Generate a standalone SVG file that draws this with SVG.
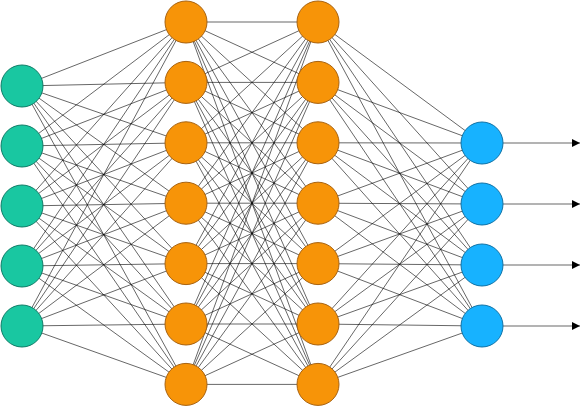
<svg xmlns="http://www.w3.org/2000/svg" width="583" height="415" viewBox="0 0 583 415">
<style>
.c line{stroke:#000;stroke-width:0.6}
.a{stroke:#000;stroke-width:1}
.in{fill:#19C7A1;stroke:#0E7D67;stroke-width:1}
.h{fill:#F79408;stroke:#A8620F;stroke-width:1}
.o{fill:#17B2FF;stroke:#0F72A6;stroke-width:1}
</style>
<defs>
<marker id="ah" viewBox="0 0 10 10" refX="10" refY="5" markerWidth="8" markerHeight="8" markerUnits="userSpaceOnUse" orient="auto">
<path d="M0,0 L10,5 L0,10 z" fill="#000"/>
</marker>
</defs>
<g id="connectors" class="c">
<line x1="22" y1="86" x2="186" y2="22"/><line x1="22" y1="86" x2="186" y2="82.4"/><line x1="22" y1="86" x2="186" y2="142.8"/><line x1="22" y1="86" x2="186" y2="203.2"/><line x1="22" y1="86" x2="186" y2="263.6"/><line x1="22" y1="86" x2="186" y2="324"/><line x1="22" y1="86" x2="186" y2="384.4"/>
<line x1="22" y1="146" x2="186" y2="22"/><line x1="22" y1="146" x2="186" y2="82.4"/><line x1="22" y1="146" x2="186" y2="142.8"/><line x1="22" y1="146" x2="186" y2="203.2"/><line x1="22" y1="146" x2="186" y2="263.6"/><line x1="22" y1="146" x2="186" y2="324"/><line x1="22" y1="146" x2="186" y2="384.4"/>
<line x1="22" y1="206" x2="186" y2="22"/><line x1="22" y1="206" x2="186" y2="82.4"/><line x1="22" y1="206" x2="186" y2="142.8"/><line x1="22" y1="206" x2="186" y2="203.2"/><line x1="22" y1="206" x2="186" y2="263.6"/><line x1="22" y1="206" x2="186" y2="324"/><line x1="22" y1="206" x2="186" y2="384.4"/>
<line x1="22" y1="266" x2="186" y2="22"/><line x1="22" y1="266" x2="186" y2="82.4"/><line x1="22" y1="266" x2="186" y2="142.8"/><line x1="22" y1="266" x2="186" y2="203.2"/><line x1="22" y1="266" x2="186" y2="263.6"/><line x1="22" y1="266" x2="186" y2="324"/><line x1="22" y1="266" x2="186" y2="384.4"/>
<line x1="22" y1="326" x2="186" y2="22"/><line x1="22" y1="326" x2="186" y2="82.4"/><line x1="22" y1="326" x2="186" y2="142.8"/><line x1="22" y1="326" x2="186" y2="203.2"/><line x1="22" y1="326" x2="186" y2="263.6"/><line x1="22" y1="326" x2="186" y2="324"/><line x1="22" y1="326" x2="186" y2="384.4"/>
<line x1="186" y1="22" x2="318" y2="22"/><line x1="186" y1="22" x2="318" y2="82.4"/><line x1="186" y1="22" x2="318" y2="142.8"/><line x1="186" y1="22" x2="318" y2="203.2"/><line x1="186" y1="22" x2="318" y2="263.6"/><line x1="186" y1="22" x2="318" y2="324"/><line x1="186" y1="22" x2="318" y2="384.4"/>
<line x1="186" y1="82.4" x2="318" y2="22"/><line x1="186" y1="82.4" x2="318" y2="82.4"/><line x1="186" y1="82.4" x2="318" y2="142.8"/><line x1="186" y1="82.4" x2="318" y2="203.2"/><line x1="186" y1="82.4" x2="318" y2="263.6"/><line x1="186" y1="82.4" x2="318" y2="324"/><line x1="186" y1="82.4" x2="318" y2="384.4"/>
<line x1="186" y1="142.8" x2="318" y2="22"/><line x1="186" y1="142.8" x2="318" y2="82.4"/><line x1="186" y1="142.8" x2="318" y2="142.8"/><line x1="186" y1="142.8" x2="318" y2="203.2"/><line x1="186" y1="142.8" x2="318" y2="263.6"/><line x1="186" y1="142.8" x2="318" y2="324"/><line x1="186" y1="142.8" x2="318" y2="384.4"/>
<line x1="186" y1="203.2" x2="318" y2="22"/><line x1="186" y1="203.2" x2="318" y2="82.4"/><line x1="186" y1="203.2" x2="318" y2="142.8"/><line x1="186" y1="203.2" x2="318" y2="203.2"/><line x1="186" y1="203.2" x2="318" y2="263.6"/><line x1="186" y1="203.2" x2="318" y2="324"/><line x1="186" y1="203.2" x2="318" y2="384.4"/>
<line x1="186" y1="263.6" x2="318" y2="22"/><line x1="186" y1="263.6" x2="318" y2="82.4"/><line x1="186" y1="263.6" x2="318" y2="142.8"/><line x1="186" y1="263.6" x2="318" y2="203.2"/><line x1="186" y1="263.6" x2="318" y2="263.6"/><line x1="186" y1="263.6" x2="318" y2="324"/><line x1="186" y1="263.6" x2="318" y2="384.4"/>
<line x1="186" y1="324" x2="318" y2="22"/><line x1="186" y1="324" x2="318" y2="82.4"/><line x1="186" y1="324" x2="318" y2="142.8"/><line x1="186" y1="324" x2="318" y2="203.2"/><line x1="186" y1="324" x2="318" y2="263.6"/><line x1="186" y1="324" x2="318" y2="324"/><line x1="186" y1="324" x2="318" y2="384.4"/>
<line x1="186" y1="384.4" x2="318" y2="22"/><line x1="186" y1="384.4" x2="318" y2="82.4"/><line x1="186" y1="384.4" x2="318" y2="142.8"/><line x1="186" y1="384.4" x2="318" y2="203.2"/><line x1="186" y1="384.4" x2="318" y2="263.6"/><line x1="186" y1="384.4" x2="318" y2="324"/><line x1="186" y1="384.4" x2="318" y2="384.4"/>
<line x1="318" y1="22" x2="482" y2="143"/><line x1="318" y1="22" x2="482" y2="204"/><line x1="318" y1="22" x2="482" y2="265"/><line x1="318" y1="22" x2="482" y2="326"/>
<line x1="318" y1="82.4" x2="482" y2="143"/><line x1="318" y1="82.4" x2="482" y2="204"/><line x1="318" y1="82.4" x2="482" y2="265"/><line x1="318" y1="82.4" x2="482" y2="326"/>
<line x1="318" y1="142.8" x2="482" y2="143"/><line x1="318" y1="142.8" x2="482" y2="204"/><line x1="318" y1="142.8" x2="482" y2="265"/><line x1="318" y1="142.8" x2="482" y2="326"/>
<line x1="318" y1="203.2" x2="482" y2="143"/><line x1="318" y1="203.2" x2="482" y2="204"/><line x1="318" y1="203.2" x2="482" y2="265"/><line x1="318" y1="203.2" x2="482" y2="326"/>
<line x1="318" y1="263.6" x2="482" y2="143"/><line x1="318" y1="263.6" x2="482" y2="204"/><line x1="318" y1="263.6" x2="482" y2="265"/><line x1="318" y1="263.6" x2="482" y2="326"/>
<line x1="318" y1="324" x2="482" y2="143"/><line x1="318" y1="324" x2="482" y2="204"/><line x1="318" y1="324" x2="482" y2="265"/><line x1="318" y1="324" x2="482" y2="326"/>
<line x1="318" y1="384.4" x2="482" y2="143"/><line x1="318" y1="384.4" x2="482" y2="204"/><line x1="318" y1="384.4" x2="482" y2="265"/><line x1="318" y1="384.4" x2="482" y2="326"/>
<line class="a" x1="503" y1="143" x2="580" y2="143" marker-end="url(#ah)"/>
<line class="a" x1="503" y1="204" x2="580" y2="204" marker-end="url(#ah)"/>
<line class="a" x1="503" y1="265" x2="580" y2="265" marker-end="url(#ah)"/>
<line class="a" x1="503" y1="326" x2="580" y2="326" marker-end="url(#ah)"/>
</g>
<g id="in1"><circle class="in" cx="22" cy="86" r="21"/></g>
<g id="in2"><circle class="in" cx="22" cy="146" r="21"/></g>
<g id="in3"><circle class="in" cx="22" cy="206" r="21"/></g>
<g id="in4"><circle class="in" cx="22" cy="266" r="21"/></g>
<g id="in5"><circle class="in" cx="22" cy="326" r="21"/></g>
<g id="h1a"><circle class="h" cx="186" cy="22" r="21"/></g>
<g id="h1b"><circle class="h" cx="186" cy="82.4" r="21"/></g>
<g id="h1c"><circle class="h" cx="186" cy="142.8" r="21"/></g>
<g id="h1d"><circle class="h" cx="186" cy="203.2" r="21"/></g>
<g id="h1e"><circle class="h" cx="186" cy="263.6" r="21"/></g>
<g id="h1f"><circle class="h" cx="186" cy="324" r="21"/></g>
<g id="h1g"><circle class="h" cx="186" cy="384.4" r="21"/></g>
<g id="h2a"><circle class="h" cx="318" cy="22" r="21"/></g>
<g id="h2b"><circle class="h" cx="318" cy="82.4" r="21"/></g>
<g id="h2c"><circle class="h" cx="318" cy="142.8" r="21"/></g>
<g id="h2d"><circle class="h" cx="318" cy="203.2" r="21"/></g>
<g id="h2e"><circle class="h" cx="318" cy="263.6" r="21"/></g>
<g id="h2f"><circle class="h" cx="318" cy="324" r="21"/></g>
<g id="h2g"><circle class="h" cx="318" cy="384.4" r="21"/></g>
<g id="out1"><circle class="o" cx="482" cy="143" r="21"/></g>
<g id="out2"><circle class="o" cx="482" cy="204" r="21"/></g>
<g id="out3"><circle class="o" cx="482" cy="265" r="21"/></g>
<g id="out4"><circle class="o" cx="482" cy="326" r="21"/></g>
</svg>
